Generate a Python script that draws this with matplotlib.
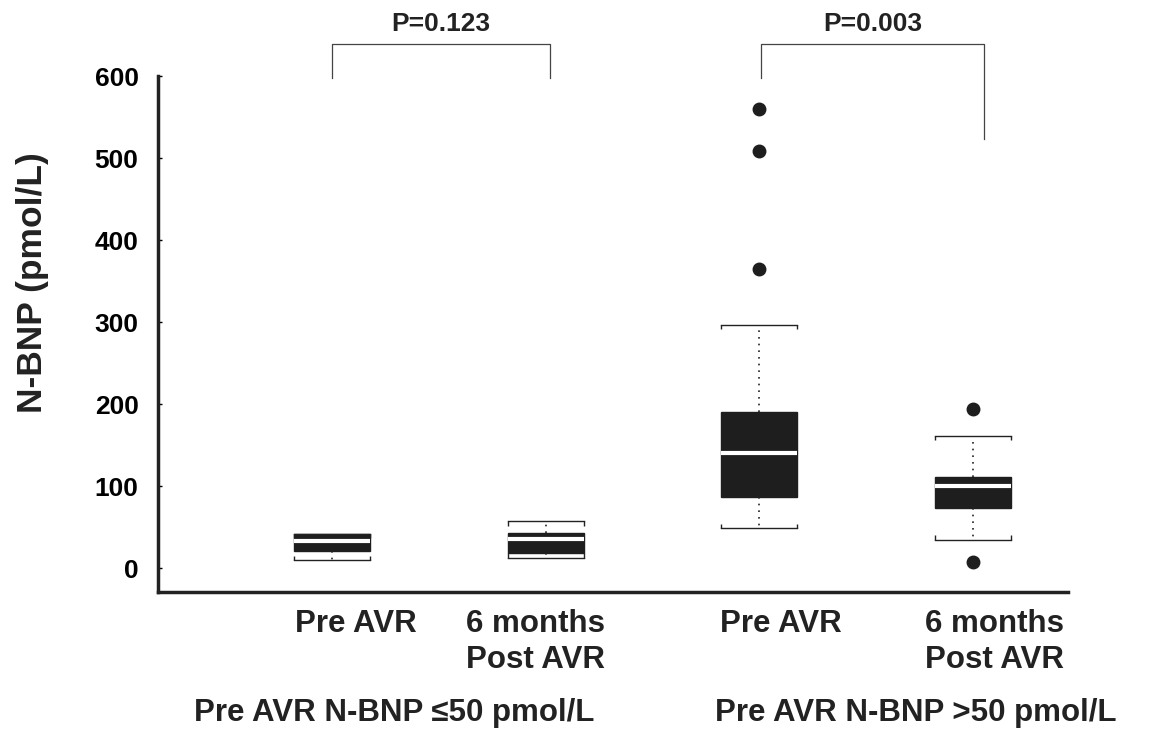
import numpy as np
import matplotlib
matplotlib.use("Agg")
import matplotlib.pyplot as plt

plt.rcParams['font.family'] = ['Liberation Sans', 'DejaVu Sans']
plt.rcParams['font.weight'] = 'bold'

# summary stats (pmol/L)
positions = [1, 2, 3, 4]
whislo = [10, 13, 49, 35]
q1 = [21, 18, 87, 73]
med = [33, 36, 140, 100]
q3 = [42, 43, 191, 111]
whishi = [42, 57, 297, 161]
fliers = [[], [], [365, 509, 560], [7, 194]]

xlabels = ["Pre AVR", "6 months\nPost AVR", "Pre AVR", "6 months\nPost AVR"]
xlabel_pos = [1.11, 1.95, 3.10, 4.10]
group_labels = ["Pre AVR N-BNP \u226450 pmol/L", "Pre AVR N-BNP >50 pmol/L"]
group_pos = [1.29, 3.73]

pvals = ["P=0.123", "P=0.003"]
bracket_x = [(1.0, 2.02), (3.01, 4.05)]
bracket_top = 639
bracket_legs = [(598, 598), (598, 524)]

stats = []
for i in range(4):
    stats.append(dict(whislo=whislo[i], q1=q1[i], med=med[i], q3=q3[i],
                      whishi=whishi[i], fliers=fliers[i]))

fig = plt.figure(figsize=(11.49, 7.39), dpi=100)
ax = fig.add_axes([0.1375, 0.1989, 0.792, 0.698])

w = 0.356
bp = ax.bxp(stats, positions=positions, widths=w, patch_artist=True,
            showfliers=True, capwidths=w,
            boxprops=dict(facecolor='#1e1e1e', edgecolor='#1e1e1e', linewidth=1),
            medianprops=dict(color='white', linewidth=3),
            whiskerprops=dict(color='#222222', linestyle=(0, (1, 3)), linewidth=1.2),
            capprops=dict(color='#222222', linewidth=1),
            flierprops=dict(marker='o', markerfacecolor='#1e1e1e',
                            markeredgecolor='#1e1e1e', markersize=9))

# small bracket-like ends on the whisker caps
for i, p in enumerate(positions):
    for xe in (p - w / 2, p + w / 2):
        ax.vlines(xe, whishi[i] - 5, whishi[i], color='#222222', lw=1)
        ax.vlines(xe, whislo[i], whislo[i] + 5, color='#222222', lw=1)

ax.set_xlim(0.185, 4.445)
ax.set_ylim(-29, 600)
ax.set_yticks([0, 100, 200, 300, 400, 500, 600])
ax.tick_params(axis='y', direction='in', length=3, width=1, pad=14, labelsize=19)
ax.set_xticks([])

for s in ['top', 'right']:
    ax.spines[s].set_visible(False)
for s in ['left', 'bottom']:
    ax.spines[s].set_linewidth(2.5)
    ax.spines[s].set_color('#222222')

ax.set_ylabel("N-BNP (pmol/L)", fontsize=25.5, fontweight='bold', color='#222222')
ax.yaxis.set_label_coords(-0.12, 0.60)

tr = ax.get_xaxis_transform()
for lab, xp in zip(xlabels, xlabel_pos):
    ax.text(xp, -0.033, lab, transform=tr, ha='center', va='top', fontsize=22.5,
            fontweight='bold', color='#222222', linespacing=1.25)
for lab, xp in zip(group_labels, group_pos):
    ax.text(xp, -0.234, lab, transform=tr, ha='center', va='center', fontsize=22.5,
            fontweight='bold', color='#222222')

# significance brackets
for (x0, x1), (l0, l1), pv in zip(bracket_x, bracket_legs, pvals):
    ax.plot([x0, x0, x1, x1], [l0, bracket_top, bracket_top, l1], color='#444444',
            lw=0.9, clip_on=False)
    ax.text((x0 + x1) / 2, bracket_top + 10, pv, ha='center', va='bottom',
            fontsize=19, fontweight='bold', color='#222222', clip_on=False)

fig.savefig("out.png", dpi=100)
